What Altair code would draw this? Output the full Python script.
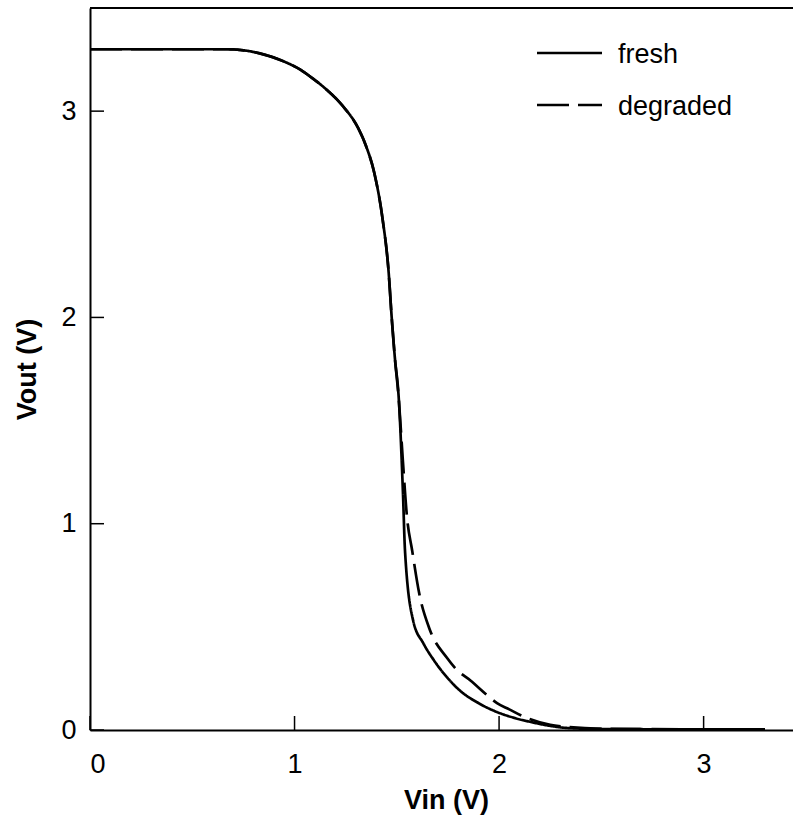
import altair as alt
import pandas as pd

# ---- data ----
SERIES = ["fresh", "degraded"]

VIN_FRESH = [0.0, 0.3, 0.6, 0.67, 0.75, 0.83, 0.95, 1.03, 1.08, 1.15,
             1.24, 1.31, 1.35, 1.39, 1.43, 1.46, 1.475, 1.49, 1.51, 1.53,
             1.54, 1.58, 1.63, 1.68, 1.75, 1.81, 1.90, 1.99, 2.07, 2.15,
             2.25, 2.33, 2.5, 3.0, 3.3]
VOUT_FRESH = [3.30, 3.30, 3.30, 3.30, 3.295, 3.28, 3.24, 3.20, 3.165, 3.11,
              3.02, 2.92, 2.83, 2.70, 2.48, 2.22, 2.00, 1.81, 1.60, 1.15,
              0.87, 0.53, 0.42, 0.34, 0.25, 0.19, 0.13, 0.087, 0.06, 0.04,
              0.02, 0.01, 0.005, 0.003, 0.003]

VIN_DEG = [0.0, 0.3, 0.6, 0.67, 0.75, 0.83, 0.95, 1.03, 1.08, 1.15,
           1.24, 1.31, 1.35, 1.39, 1.43, 1.46, 1.475, 1.49, 1.51, 1.53,
           1.55, 1.575, 1.61, 1.66, 1.745, 1.795, 1.86, 1.94, 1.99, 2.05,
           2.12, 2.25, 2.33, 2.5, 3.0, 3.3]
VOUT_DEG = [3.30, 3.30, 3.30, 3.30, 3.295, 3.28, 3.24, 3.20, 3.165, 3.11,
            3.02, 2.92, 2.83, 2.70, 2.48, 2.22, 2.00, 1.81, 1.60, 1.30,
            1.03, 0.87, 0.66, 0.49, 0.35, 0.29, 0.24, 0.17, 0.13, 0.10,
            0.065, 0.025, 0.015, 0.006, 0.003, 0.003]

X_TICKS = [0, 1, 2, 3]
Y_TICKS = [0, 1, 2, 3]
X_MAX = 3.437
Y_MAX = 3.5

# ---- build table ----
rows = []
for i, (x, y) in enumerate(zip(VIN_FRESH, VOUT_FRESH)):
    rows.append({"vin": x, "vout": y, "series": SERIES[0], "idx": i})
for i, (x, y) in enumerate(zip(VIN_DEG, VOUT_DEG)):
    rows.append({"vin": x, "vout": y, "series": SERIES[1], "idx": i})
df = pd.DataFrame(rows)

W, H = 703, 722
FONT = "Liberation Sans"
DASHES = [[1, 0], [32, 9]]

xscale = alt.Scale(domain=[0, X_MAX], nice=False, zero=False)
yscale = alt.Scale(domain=[0, Y_MAX], nice=False, zero=False)

x_axis = alt.Axis(values=X_TICKS, title="Vin (V)", format="d",
                  titleX=356, titleY=70, titleBaseline="middle", titleAlign="center",
                  labelPadding=21, labelBaseline="top")
y_axis = alt.Axis(values=Y_TICKS, title="Vout (V)", format="d",
                  titleX=-63, titleY=H / 2, titleAngle=270, titleBaseline="middle",
                  titleAlign="center", labelPadding=14)

lines = alt.Chart(df).mark_line(color="black", strokeWidth=2.7, clip=True,
                                interpolate="monotone").encode(
    x=alt.X("vin:Q", scale=xscale, axis=x_axis),
    y=alt.Y("vout:Q", scale=yscale, axis=y_axis),
    strokeDash=alt.StrokeDash("series:N",
                              scale=alt.Scale(domain=SERIES, range=DASHES),
                              legend=None),
    order="idx:Q",
)

xt = alt.Chart(pd.DataFrame({"vin": X_TICKS})).mark_rule(color="black", strokeWidth=1.5).encode(
    x=alt.X("vin:Q", scale=xscale),
    y=alt.value(H), y2=alt.value(H - 14),
)
yt = alt.Chart(pd.DataFrame({"vout": Y_TICKS})).mark_rule(color="black", strokeWidth=1.5).encode(
    y=alt.Y("vout:Q", scale=yscale),
    x=alt.value(0), x2=alt.value(14),
)
top = alt.Chart(pd.DataFrame({"a": [0]})).mark_rule(color="black", strokeWidth=2).encode(
    y=alt.datum(Y_MAX), x=alt.value(0), x2=alt.value(W),
)

# manual legend
leg_layers = []
for i, name in enumerate(SERIES):
    ld = pd.DataFrame({"series": [name]})
    leg_layers.append(
        alt.Chart(ld).mark_rule(color="black", strokeWidth=2.5, strokeDash=DASHES[i]).encode(
            x=alt.value(447), x2=alt.value(512), y=alt.value(45 + 52 * i)
        )
    )
    leg_layers.append(
        alt.Chart(ld).mark_text(font=FONT, fontSize=27, align="left", baseline="alphabetic",
                                color="black").encode(
            x=alt.value(528), y=alt.value(55 + 52 * i), text="series:N"
        )
    )

chart = alt.layer(lines, xt, yt, top, *leg_layers).properties(
    width=W, height=H,
    padding={"left": 90, "top": 8, "right": 0, "bottom": 100},
    autosize=alt.AutoSizeParams(type="none"),
).configure_view(stroke=None).configure_axis(
    grid=False, ticks=False, tickSize=0,
    domainColor="black", domainWidth=2,
    labelFont=FONT, labelFontSize=27, labelColor="black",
    titleFont=FONT, titleFontSize=27, titleFontWeight="bold", titleColor="black",
)

chart.save("out.html", embed_options={"renderer": "svg", "actions": False})
